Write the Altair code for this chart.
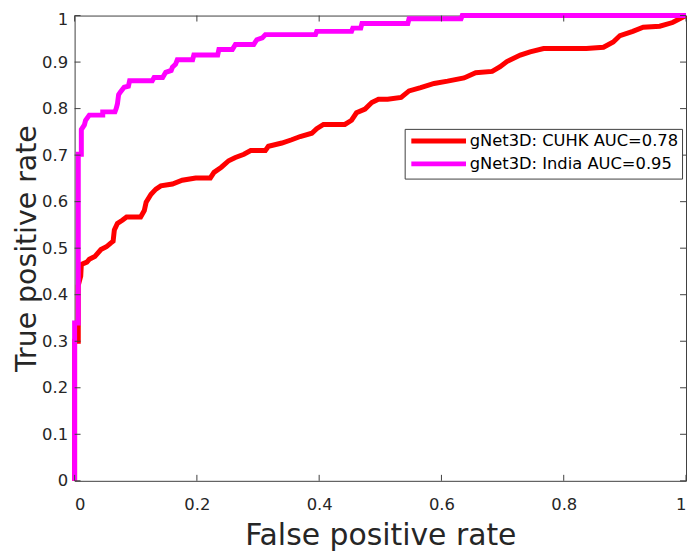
import altair as alt
import pandas as pd

series = ["gNet3D: CUHK AUC=0.78", "gNet3D: India AUC=0.95"]
colors = ["#FF0000", "#FF00FF"]

cuhk_fpr = [0, 0, 0.006, 0.006, 0.010, 0.011, 0.020, 0.024, 0.033, 0.043, 0.052, 0.059, 0.063,
            0.065, 0.070, 0.078, 0.085, 0.108, 0.114, 0.117, 0.125, 0.133, 0.141, 0.160, 0.176,
            0.198, 0.222, 0.228, 0.240, 0.252, 0.263, 0.277, 0.288, 0.312, 0.317, 0.339, 0.355,
            0.369, 0.388, 0.396, 0.407, 0.442, 0.453, 0.461, 0.475, 0.486, 0.497, 0.512, 0.534,
            0.547, 0.566, 0.588, 0.610, 0.637, 0.656, 0.683, 0.696, 0.707, 0.729, 0.745, 0.767,
            0.837, 0.865, 0.881, 0.892, 0.913, 0.930, 0.957, 0.978, 1.0]
cuhk_tpr = [0, 0.30, 0.30, 0.42, 0.44, 0.465, 0.47, 0.476, 0.482, 0.497, 0.503, 0.511, 0.515,
            0.539, 0.553, 0.560, 0.567, 0.567, 0.581, 0.599, 0.616, 0.627, 0.634, 0.638, 0.646,
            0.651, 0.651, 0.663, 0.674, 0.688, 0.695, 0.702, 0.710, 0.710, 0.719, 0.726, 0.733,
            0.740, 0.747, 0.757, 0.766, 0.766, 0.775, 0.791, 0.799, 0.813, 0.820, 0.820, 0.824,
            0.838, 0.845, 0.854, 0.859, 0.866, 0.877, 0.880, 0.890, 0.901, 0.915, 0.922, 0.929,
            0.929, 0.932, 0.943, 0.957, 0.966, 0.975, 0.977, 0.985, 1.0]

india_fpr = [0, 0, 0.006, 0.006, 0.011, 0.011, 0.016, 0.018, 0.024, 0.046, 0.046, 0.066, 0.068,
             0.070, 0.072, 0.075, 0.081, 0.088, 0.090, 0.127, 0.130, 0.144, 0.149, 0.158, 0.160,
             0.165, 0.168, 0.193, 0.195, 0.234, 0.236, 0.258, 0.263, 0.293, 0.298, 0.307, 0.312,
             0.394, 0.396, 0.453, 0.455, 0.468, 0.470, 0.545, 0.547, 0.632, 0.634, 1.0]
india_tpr = [0, 0.339, 0.339, 0.702, 0.702, 0.755, 0.765, 0.775, 0.786, 0.786, 0.793, 0.793, 0.800,
             0.810, 0.830, 0.836, 0.846, 0.848, 0.860, 0.860, 0.867, 0.867, 0.878, 0.882, 0.889,
             0.895, 0.905, 0.905, 0.915, 0.915, 0.927, 0.927, 0.938, 0.938, 0.948, 0.952, 0.959,
             0.959, 0.966, 0.966, 0.973, 0.973, 0.983, 0.983, 0.993, 0.993, 1.0, 1.0]

x_ticks = [0, 0.2, 0.4, 0.6, 0.8, 1]
y_ticks = [0, 0.1, 0.2, 0.3, 0.4, 0.5, 0.6, 0.7, 0.8, 0.9, 1]

TOP = 6
W, H = 615, 482 - 8 - TOP
FONT = "DejaVu Sans"
AXC = "#404040"
TXT = "#262626"
TL = 6

df_c = pd.DataFrame({"fpr": cuhk_fpr, "tpr": cuhk_tpr, "model": series[0], "i": range(len(cuhk_fpr))})
df_i = pd.DataFrame({"fpr": india_fpr, "tpr": india_tpr, "model": series[1], "i": range(len(india_fpr))})
xt = pd.DataFrame({"fpr": x_ticks})
yt = pd.DataFrame({"tpr": y_ticks})

xs = alt.Scale(domain=[0, 1], nice=False, zero=False)
ys = alt.Scale(domain=[0, 1], nice=False, zero=False)

color = alt.Color(
    "model:N",
    scale=alt.Scale(domain=series, range=colors),
    legend=alt.Legend(
        title=None, orient="none", legendX=332, legendY=128 - 8 - TOP,
        symbolType="M-5.5,0H5.5", symbolSize=100, symbolStrokeWidth=5,
        symbolOffset=22,
        labelFont=FONT, labelFontSize=16.4, labelColor="#000000", labelOffset=23,
        labelExpr="datum.label + '  '",
        rowPadding=2, padding=4, strokeColor="#404040", fillColor="#ffffff",
        labelLimit=400,
    ),
)

xaxis = alt.Axis(values=x_ticks, format="~g", title="False positive rate", labelPadding=16,
                 titlePadding=8, titleFontSize=30)
yaxis = alt.Axis(values=y_ticks, format="~g", title="True positive rate", labelPadding=7,
                 titlePadding=0, titleFontSize=28.5,
                 labelOffset={"condition": {"test": "datum.value == 1", "value": 4}, "value": 0})

X = alt.X("fpr:Q", scale=xs, axis=xaxis)
Y = alt.Y("tpr:Q", scale=ys, axis=yaxis)

red = alt.Chart(df_c).mark_line(strokeWidth=5).encode(x=X, y=Y, order="i:Q", color=color)
mag = alt.Chart(df_i).mark_line(strokeWidth=5).encode(x=X, y=Y, order="i:Q", color=color)

bt = alt.Chart(xt).mark_rule(color=AXC, strokeWidth=1).encode(
    x=X, y=alt.value(H), y2=alt.value(H - TL))
tt = alt.Chart(xt).mark_rule(color=AXC, strokeWidth=1).encode(
    x=X, y=alt.value(0), y2=alt.value(TL))
lt = alt.Chart(yt).mark_rule(color=AXC, strokeWidth=1).encode(
    y=Y, x=alt.value(0), x2=alt.value(TL))
rt = alt.Chart(yt).mark_rule(color=AXC, strokeWidth=1).encode(
    y=Y, x=alt.value(W), x2=alt.value(W - TL))

chart = alt.layer(red, mag, bt, tt, lt, rt).properties(
    width=W, height=H,
    autosize=alt.AutoSizeParams(type="none"),
    padding={"left": 67, "top": TOP, "right": 2, "bottom": 70},
).configure_view(
    stroke=AXC, strokeWidth=1
).configure_axis(
    domain=False, ticks=False, grid=False,
    labelFont=FONT, labelFontSize=16.5, labelColor=TXT,
    titleFont=FONT, titleColor=TXT, titleFontWeight="normal",
)

chart.save("out.html", embed_options={"renderer": "svg", "actions": False})
